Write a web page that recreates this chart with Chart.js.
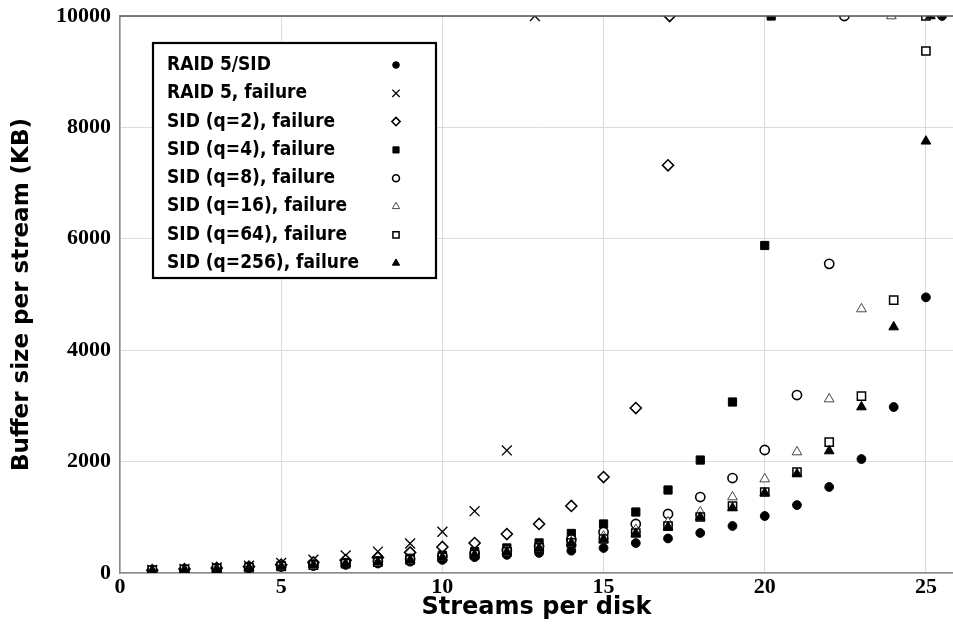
<!DOCTYPE html>
<html><head><meta charset="utf-8">
<script src="https://cdn.jsdelivr.net/npm/chart.js@4/dist/chart.umd.min.js"></script>
<style>html,body{margin:0;padding:0;background:#fff;}</style>
</head><body>
<canvas id="c" width="953" height="644"></canvas>
<script>
// ---- data ----
const streams = [1,2,3,4,5,6,7,8,9,10,11,12,13,14,15,16,17,18,19,20,21,22,23,24,25];
const seriesLabels = ['RAID 5/SID','RAID 5, failure','SID (q=2), failure','SID (q=4), failure','SID (q=8), failure','SID (q=16), failure','SID (q=64), failure','SID (q=256), failure'];
const raid5Sid   = [45,60,75,90,110,125,145,170,203,235,285,325,360,400,449,538,620,718,844,1023,1220,1544,2046,2980,4949];
const raid5Fail  = [55,75,100,130,180,240,315,385,530,740,1110,2200];
const sidQ2      = [50,70,90,115,150,190,230,280,370,467,538,700,880,1203,1723,2962,7320];
const sidQ4      = [50,65,85,105,130,155,185,220,265,320,385,450,540,710,880,1095,1490,2028,3070,5880];
const sidQ8      = [48,63,80,100,125,150,175,210,250,300,350,410,480,600,736,880,1059,1364,1705,2208,3195,5550];
const sidQ16     = [47,62,78,97,120,145,170,200,240,285,335,390,460,560,660,780,915,1095,1364,1687,2172,3123,4740];
const sidQ64     = [47,62,78,96,118,142,167,197,235,280,330,380,450,540,610,718,840,1005,1203,1454,1813,2351,3177,4900,9372];
const sidQ256    = [46,61,77,95,117,140,165,195,232,277,325,375,445,535,605,710,826,1000,1167,1436,1777,2190,2980,4416,7751];
// x where each series saturates at the 10000 KB cap
const saturationX = [25.5,12.87,17.05,20.2,22.47,23.93,25.0,25.14];
const capValue = 10000;
const xMax = 25.84;
const yTicks = [0,2000,4000,6000,8000,10000];
const xTicks = [0,5,10,15,20,25];

const allValues = [raid5Sid,raid5Fail,sidQ2,sidQ4,sidQ8,sidQ16,sidQ64,sidQ256];
const styles = [
  {pointStyle:'circle',  radius:4.4, bg:'#000', bc:'#000', bw:1},
  {pointStyle:'crossRot',radius:7,   bg:'#000', bc:'#000', bw:1.3},
  {pointStyle:'rectRot', radius:5.5, bg:'#fff', bc:'#000', bw:1.6},
  {pointStyle:'rect',    radius:5.8, bg:'#000', bc:'#000', bw:1},
  {pointStyle:'circle',  radius:4.6, bg:'#fff', bc:'#000', bw:1.6},
  {pointStyle:'triangle',radius:5.6, bg:'#fff', bc:'#333', bw:0.9},
  {pointStyle:'rect',    radius:5.8, bg:'#fff', bc:'#000', bw:1.5},
  {pointStyle:'triangle',radius:5.6, bg:'#000', bc:'#000', bw:1}
];

const datasets = allValues.map((vals,i)=>{
  const pts = vals.map((v,j)=>({x:streams[j], y:v}));
  pts.push({x:saturationX[i], y:capValue});
  const s = styles[i];
  return {label:seriesLabels[i], data:pts, pointStyle:s.pointStyle, pointRadius:s.radius,
    backgroundColor:s.bg, borderColor:s.bc, pointBorderWidth:s.bw, showLine:false, order:8-i};
});

const SANS = "'DejaVu Sans',sans-serif";
const COND = "'DejaVu Sans Condensed','DejaVu Sans',sans-serif";
const SERIF = "'Liberation Serif','DejaVu Serif',serif";
const zeroPad = () => ({left:0, top:0, right:0, bottom:0});

const legendPlugin = {
  id:'boxLegend',
  afterDatasetsDraw(chart){
    const ctx = chart.ctx;
    const L=153, T=43, W=283, H=235;
    ctx.save();
    ctx.fillStyle='#fff'; ctx.fillRect(L,T,W,H);
    ctx.lineWidth=2.2; ctx.strokeStyle='#000'; ctx.strokeRect(L,T,W,H);
    ctx.font = "bold 19px "+COND;
    ctx.textBaseline='middle'; ctx.fillStyle='#000';
    chart.data.datasets.forEach((ds,i)=>{
      const y = 65 + i*28.3;
      ctx.fillStyle='#000';
      ctx.fillText(ds.label, 167, y);
      const s = styles[i];
      ctx.fillStyle=s.bg; ctx.strokeStyle=s.bc; ctx.lineWidth=s.bw;
      Chart.helpers.drawPoint(ctx,{pointStyle:s.pointStyle, radius:s.radius*0.75, rotation:0, borderWidth:s.bw}, 396, y);
    });
    ctx.restore();
  }
};
const topBorder = {
  id:'topBorder',
  afterDraw(chart){
    const a = chart.chartArea, ctx=chart.ctx;
    ctx.save(); ctx.strokeStyle='#555'; ctx.lineWidth=1.5;
    ctx.beginPath(); ctx.moveTo(a.left,a.top); ctx.lineTo(a.right,a.top); ctx.stroke(); ctx.restore();
  }
};

new Chart(document.getElementById('c'),{
  type:'scatter',
  data:{datasets},
  options:{
    responsive:false, animation:false,
    layout:{autoPadding:false, padding:{top:16,right:0,left:8,bottom:22}},
    plugins:{legend:{display:false}, tooltip:{enabled:false}},
    scales:{
      x:{type:'linear', min:0, max:xMax,
        afterBuildTicks(s){ s.ticks = xTicks.concat([xMax]).map(v=>({value:v})); },
        afterFit(s){ s.height = 49; s.paddingLeft = 0; s.paddingRight = 0; s.getPadding = zeroPad; },
        grid:{color:'#dcdcdc', drawTicks:false},
        border:{color:'#888', width:1.5},
        ticks:{color:'#000', padding:1, font:{family:SERIF, weight:'bold', size:22},
          callback:(v)=> xTicks.includes(v) ? String(v) : ''},
        title:{display:true, text:'Streams per disk', color:'#000', padding:{top:0,bottom:0}, font:{family:SANS, weight:'bold', size:24}}
      },
      y:{type:'linear', min:0, max:capValue,
        afterBuildTicks(s){ s.ticks = yTicks.map(v=>({value:v})); },
        afterFit(s){ s.width = 112; s.paddingTop = 0; s.paddingBottom = 0; s.getPadding = zeroPad; },
        grid:{color:'#dcdcdc', drawTicks:false},
        border:{color:'#888', width:1.5},
        ticks:{color:'#000', padding:9, font:{family:SERIF, weight:'bold', size:22},
          callback:(v)=> String(v)},
        title:{display:true, text:'Buffer size per stream (KB)', color:'#000', padding:{top:0,bottom:0}, font:{family:SANS, weight:'bold', size:23}}
      }
    }
  },
  plugins:[legendPlugin, topBorder]
});
</script>
</body></html>
